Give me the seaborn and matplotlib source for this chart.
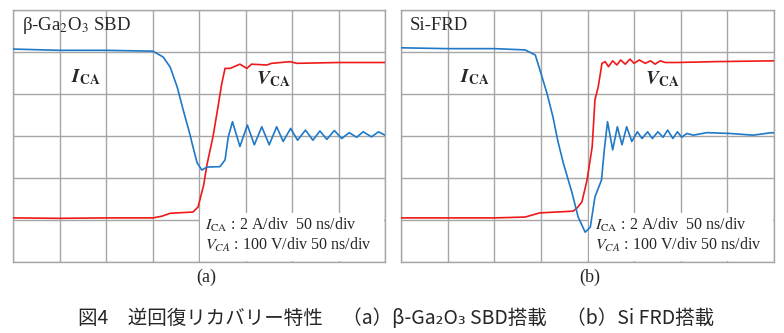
import matplotlib
matplotlib.use("Agg")
import matplotlib.pyplot as plt
import seaborn as sns
import pandas as pd

# ---- data (units: oscilloscope divisions) ----
a_i_t = [0.0, 1.0, 2.0, 3.01, 3.23, 3.38, 3.53, 3.66, 3.81, 3.85, 3.96, 4.06, 4.17, 4.45, 4.56, 4.63, 4.72,
         4.88, 5.04, 5.19, 5.35, 5.51, 5.67, 5.81, 5.97, 6.12, 6.29, 6.45, 6.6, 6.75, 6.91, 7.07, 7.23, 7.39,
         7.53, 7.71, 7.86, 8.0]
a_i_v = [5.07, 5.04, 5.04, 5.02, 4.88, 4.64, 4.17, 3.62, 3.02, 2.83, 2.36, 2.19, 2.26, 2.27, 2.43, 2.98, 3.34,
         2.75, 3.26, 2.79, 3.22, 2.79, 3.22, 2.87, 3.18, 2.9, 3.14, 2.9, 3.12, 2.92, 3.13, 2.94, 3.08, 2.97,
         3.1, 2.98, 3.1, 3.02]
a_v_t = [0.0, 1.0, 2.0, 3.01, 3.2, 3.38, 3.87, 3.98, 4.1, 4.17, 4.3, 4.39, 4.49, 4.56, 4.67, 4.88, 5.03, 5.13,
         5.46, 5.56, 5.96, 6.1, 7.0, 8.0]
a_v_v = [1.05, 1.04, 1.05, 1.05, 1.09, 1.16, 1.19, 1.31, 1.83, 2.31, 2.98, 3.57, 4.25, 4.61, 4.61, 4.71, 4.61,
         4.71, 4.69, 4.73, 4.77, 4.73, 4.75, 4.75]

b_i_t = [0.0, 1.0, 2.0, 2.66, 2.88, 2.98, 3.13, 3.26, 3.36, 3.48, 3.67, 3.8, 3.95, 4.06, 4.16, 4.3, 4.36,
         4.43, 4.54, 4.64, 4.74, 4.84, 4.95, 5.07, 5.17, 5.29, 5.39, 5.51, 5.62, 5.72, 5.83, 5.93, 6.02, 6.13,
         6.27, 6.56, 7.06, 7.55, 7.95, 8.0]
b_i_v = [5.1, 5.08, 5.08, 5.05, 4.93, 4.57, 4.02, 3.45, 2.9, 2.36, 1.64, 1.07, 0.71, 0.83, 1.55, 1.95, 2.67,
         3.34, 2.67, 3.22, 2.79, 3.22, 2.87, 3.1, 2.94, 3.1, 2.94, 3.1, 2.97, 3.14, 2.94, 3.1, 2.97, 3.06,
         3.02, 3.08, 3.06, 3.02, 3.08, 3.07]
b_v_t = [0.0, 1.0, 2.0, 2.66, 2.98, 3.69, 3.78, 3.88, 3.99, 4.1, 4.16, 4.23, 4.31, 4.38, 4.45, 4.54, 4.63,
         4.71, 4.81, 4.91, 5.0, 5.11, 5.24, 5.35, 5.45, 5.56, 5.67, 5.92, 6.7, 8.0]
b_v_v = [1.05, 1.05, 1.05, 1.07, 1.17, 1.21, 1.29, 1.43, 1.95, 2.74, 3.86, 4.17, 4.73, 4.77, 4.65, 4.79, 4.69,
         4.81, 4.71, 4.83, 4.73, 4.81, 4.73, 4.79, 4.71, 4.79, 4.75, 4.75, 4.77, 4.79]

panel_titles = ["β-Ga$_2$O$_3$ SBD", "Si-FRD"]
panel_tags = ["(a)", "(b)"]
caption = "図4　逆回復リカバリー特性　（a）β-Ga₂O₃ SBD搭載　（b）Si FRD搭載"

sns.set_style("white")
plt.rcParams["mathtext.fontset"] = "stix"
plt.rcParams["font.family"] = ["Liberation Serif", "DejaVu Sans"]

BLUE = "#1f78c8"
RED = "#f01818"
GRID = "#a6a6a6"

fig = plt.figure(figsize=(7.84, 3.33), dpi=100)
W, H = 784, 333
boxes = [(13, 385), (401, 774)]
top, bot = 10, 262

datasets = [(a_i_t, a_i_v, a_v_t, a_v_v), (b_i_t, b_i_v, b_v_t, b_v_v)]
ilab_x = [1.57, 1.59]
vlab_x = [5.59, 5.6]
leg_x = [4.13, 4.16]
tag_x = [206, 590]

for k, ((x0, x1), (it, iv, vt, vv)) in enumerate(zip(boxes, datasets)):
    ax = fig.add_axes([x0 / W, (H - bot) / H, (x1 - x0) / W, (bot - top) / H])
    ax.set_xlim(0, 8)
    ax.set_ylim(0, 6)
    ax.set_xticks(range(9))
    ax.set_yticks(range(7))
    ax.grid(True, color=GRID, lw=1.0, zorder=0)
    ax.set_axisbelow(True)
    ax.tick_params(left=False, bottom=False, labelleft=False, labelbottom=False)
    for s in ax.spines.values():
        s.set_color(GRID)
        s.set_linewidth(1.0)
    ax.add_patch(plt.Rectangle((4.03, 0.02), 3.95, 1.15, facecolor="white", edgecolor="none", zorder=1))
    di = pd.DataFrame({"t": it, "v": iv})
    dv = pd.DataFrame({"t": vt, "v": vv})
    sns.lineplot(data=dv, x="t", y="v", ax=ax, color=RED, lw=1.2, zorder=3, sort=False)
    sns.lineplot(data=di, x="t", y="v", ax=ax, color=BLUE, lw=1.2, zorder=3, sort=False)
    ax.set_xlabel("")
    ax.set_ylabel("")

    ax.text(0.19, 5.64, panel_titles[k], fontsize=13.5, va="center", ha="left")
    ax.text(ilab_x[k], 4.39, r"$\mathbfit{I}_{\mathbf{CA}}$", fontsize=14, ha="center", va="center")
    ax.text(vlab_x[k], 4.36, r"$\mathbfit{V}_{\mathbf{CA}}$", fontsize=14, ha="center", va="center")
    ax.text(leg_x[k], 0.88, r"$I_{\mathrm{CA}}$ : 2 A/div  50 ns/div", fontsize=11.5, ha="left", va="center", zorder=4)
    ax.text(leg_x[k], 0.4, r"$V_{CA}$ : 100 V/div 50 ns/div", fontsize=11.5, ha="left", va="center", zorder=4)
    fig.text(tag_x[k] / W, 1 - 277 / H, panel_tags[k], fontsize=13, ha="center", va="center")

fig.text(396 / W, 1 - 318 / H, caption, fontsize=14, ha="center", va="center",
         family=["Noto Sans CJK JP", "DejaVu Sans"])

fig.savefig("out.png", dpi=100)
